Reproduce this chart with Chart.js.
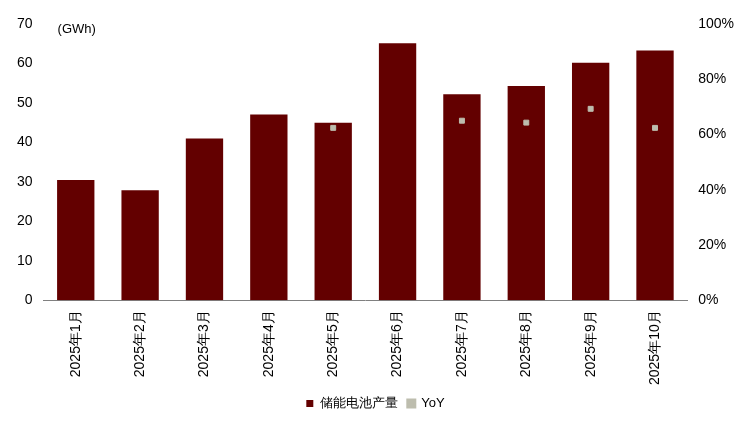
<!DOCTYPE html>
<html><head><meta charset="utf-8">
<script src="https://cdn.jsdelivr.net/npm/chart.js@4/dist/chart.umd.min.js"></script>
<style>html,body{margin:0;padding:0;background:#fff}#wrap{width:743px;height:432px;position:relative}</style>
</head><body><div id="wrap"><canvas id="c"></canvas></div>
<script>
const months = ['2025年1月','2025年2月','2025年3月','2025年4月','2025年5月','2025年6月','2025年7月','2025年8月','2025年9月','2025年10月'];
const output = [30.5, 27.9, 41, 47.1, 45, 65.1, 52.2, 54.3, 60.2, 63.3];
const yoy = [null, null, null, null, 62.4, null, 65, 64.3, 69.3, 62.4];

const unitLabel = {
  id: 'unitLabel',
  afterDraw(chart) {
    const c = chart.ctx, a = chart.chartArea;
    c.save();
    c.font = '13px "Liberation Sans", Arial, sans-serif';
    c.fillStyle = '#000';
    c.textBaseline = 'middle';
    c.fillText('(GWh)', a.left + 14, a.top + 5);
    c.restore();
  }
};

new Chart(document.getElementById('c'), {
  data: {
    labels: months,
    datasets: [
      { type: 'bar', label: '储能电池产量', data: output, backgroundColor: '#630000', yAxisID: 'y', barPercentage: 0.58, categoryPercentage: 1, order: 2 },
      { type: 'line', label: 'YoY', data: yoy, yAxisID: 'y1', showLine: false, pointStyle: 'rect', pointRadius: 3.5, backgroundColor: '#bdbdae', borderColor: '#bdbdae', order: 1 }
    ]
  },
  options: {
    responsive: true, maintainAspectRatio: false, animation: false,
    layout: { padding: { left: 14, right: 6, top: 24, bottom: 12 } },
    scales: {
      x: { grid: { display: false }, border: { color: '#808080' },
           ticks: { color: '#000', padding: 2, minRotation: 90, maxRotation: 90, font: { size: 14, family: '"Liberation Sans", Arial' } } },
      y: { position: 'left', min: 0, max: 70, grid: { display: false }, border: { display: false },
           ticks: { stepSize: 10, color: '#000', font: { size: 14, family: '"Liberation Sans", Arial' } } },
      y1: { position: 'right', min: 0, max: 100, grid: { display: false }, border: { display: false },
            ticks: { stepSize: 20, color: '#000', callback: v => v + '%', font: { size: 14, family: '"Liberation Sans", Arial' } } }
    },
    plugins: {
      legend: { position: 'bottom', labels: { boxWidth: 7, boxHeight: 7, color: '#000', sort: (a, b) => a.datasetIndex - b.datasetIndex, font: { size: 13, family: '"Liberation Sans", Arial' } } },
      tooltip: { enabled: false }
    }
  },
  plugins: [unitLabel]
});
</script></body></html>
